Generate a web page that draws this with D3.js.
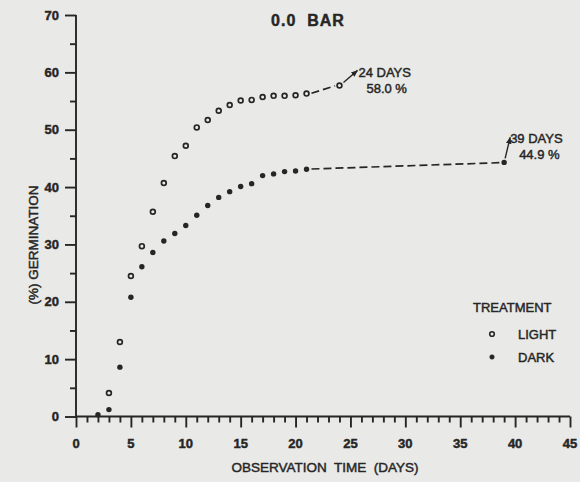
<!DOCTYPE html>
<html>
<head>
<meta charset="utf-8">
<script src="https://cdn.jsdelivr.net/npm/d3@7"></script>
<style>
  body { margin: 0; background: #e9e9e7; }
  svg { display: block; font-family: "Liberation Sans", Arial, sans-serif; }
  .ink { fill: #262626; stroke: #262626; stroke-width: 0.45px; }
</style>
</head>
<body>
<svg></svg>
<script>
// day numbers and % germination
const lightDays = [3, 4, 5, 6, 7, 8, 9, 10, 11, 12, 13, 14, 15, 16, 17, 18, 19, 20, 21, 24];
const lightValues = [4.1, 13.0, 24.5, 29.7, 35.7, 40.7, 45.4, 47.2, 50.4, 51.7, 53.3, 54.3, 55.1, 55.2, 55.7, 55.9, 55.9, 56.0, 56.3, 57.7];
const darkDays = [2, 3, 4, 5, 6, 7, 8, 9, 10, 11, 12, 13, 14, 15, 16, 17, 18, 19, 20, 21, 39];
const darkValues = [0.3, 1.2, 8.6, 20.8, 26.1, 28.6, 30.6, 31.9, 33.3, 35.1, 36.8, 38.2, 39.2, 40.1, 40.6, 42.0, 42.3, 42.7, 42.8, 43.1, 44.3];

const xTicks = [0, 5, 10, 15, 20, 25, 30, 35, 40, 45];
const yTicks = [0, 10, 20, 30, 40, 50, 60, 70];
const series = ['LIGHT', 'DARK'];
const notes = [
  { day: '24 DAYS', pct: '58.0 %' },
  { day: '39 DAYS', pct: '44.9 %' }
];

const ink = '#262626';
const svgWidth = 580;
const svgHeight = 482;

const svg = d3.select('svg')
    .attr('width', svgWidth)
    .attr('height', svgHeight);

svg.append('rect')
    .attr('width', svgWidth)
    .attr('height', svgHeight)
    .attr('fill', '#e9e9e7');

const x = d3.scaleLinear().domain([0, 45]).range([76, 570]);
const y = d3.scaleLinear().domain([0, 70]).range([416.5, 15]);

const light = lightDays.map((d, i) => [d, lightValues[i]]);
const dark = darkDays.map((d, i) => [d, darkValues[i]]);

// x axis: minor ticks every day, major every 5
const xAxis = svg.append('g')
    .attr('transform', `translate(0, ${y(0)})`)
    .call(d3.axisBottom(x).tickValues(d3.range(0, 46)).tickSize(6).tickFormat(''));
xAxis.selectAll('.tick line').filter(d => d % 5 === 0).attr('y2', 11);
xAxis.select('.domain').attr('d', `M${x(0)},0H${x(45)}`);
xAxis.selectAll('line, path').attr('stroke', ink).attr('stroke-width', 1.9);

svg.append('g')
    .attr('transform', `translate(0, ${y(0) + 31})`)
    .selectAll('text')
    .data(xTicks)
    .enter()
    .append('text')
    .attr('class', 'ink')
    .attr('x', d => x(d))
    .attr('text-anchor', 'middle')
    .attr('font-size', 13)
    .attr('font-weight', 'bold')
    .text(d => d);

// y axis: minor every 5, major every 10
const yAxis = svg.append('g')
    .attr('transform', `translate(${x(0)}, 0)`)
    .call(d3.axisLeft(y).tickValues(d3.range(0, 71, 5)).tickSize(6).tickFormat(''));
yAxis.selectAll('.tick line').filter(d => d % 10 === 0).attr('x2', -11);
yAxis.select('.domain').attr('d', `M0,${y(70)}V${y(0)}`);
yAxis.selectAll('line, path').attr('stroke', ink).attr('stroke-width', 1.9);

svg.append('g')
    .selectAll('text')
    .data(yTicks)
    .enter()
    .append('text')
    .attr('class', 'ink')
    .attr('x', x(0) - 17)
    .attr('y', d => y(d) + 4.5)
    .attr('text-anchor', 'end')
    .attr('font-size', 13)
    .attr('font-weight', 'bold')
    .text(d => d);

// titles
svg.append('text')
    .attr('class', 'ink')
    .attr('x', 308)
    .attr('y', 26)
    .attr('text-anchor', 'middle')
    .attr('font-size', 16)
    .attr('font-weight', 'bold')
    .attr('letter-spacing', 1)
    .attr('xml:space', 'preserve')
    .text('0.0  BAR');

svg.append('text')
    .attr('class', 'ink')
    .attr('x', 325)
    .attr('y', 472)
    .attr('text-anchor', 'middle')
    .attr('font-size', 13.5)
    .attr('xml:space', 'preserve')
    .text('OBSERVATION  TIME  (DAYS)');

svg.append('text')
    .attr('class', 'ink')
    .attr('transform', 'translate(38, 245) rotate(-90)')
    .attr('text-anchor', 'middle')
    .attr('font-size', 13.5)
    .text('(%) GERMINATION');

// dashed extensions to the last observation
const line = d3.line().x(d => x(d[0])).y(d => y(d[1]));
const lastLight = light.slice(-2);
const lastDark = dark.slice(-2);
[lastLight, lastDark].forEach(seg => {
  svg.append('path')
      .attr('d', line([[seg[0][0] + 0.45, seg[0][1] + 0.05], [seg[1][0] - 0.4, seg[1][1] - 0.05]]))
      .attr('fill', 'none')
      .attr('stroke', ink)
      .attr('stroke-width', 1.7)
      .attr('stroke-dasharray', '8,4');
});

// markers
svg.append('g')
    .selectAll('circle')
    .data(light)
    .enter()
    .append('circle')
    .attr('cx', d => x(d[0]))
    .attr('cy', d => y(d[1]))
    .attr('r', 2.4)
    .attr('fill', 'none')
    .attr('stroke', ink)
    .attr('stroke-width', 1.7);

svg.append('g')
    .selectAll('circle')
    .data(dark)
    .enter()
    .append('circle')
    .attr('cx', d => x(d[0]))
    .attr('cy', d => y(d[1]))
    .attr('r', 2.7)
    .attr('fill', ink);

// annotations with leader arrows
svg.append('defs').append('marker')
    .attr('id', 'head')
    .attr('viewBox', '0 0 10 10')
    .attr('refX', 9)
    .attr('refY', 5)
    .attr('markerWidth', 5)
    .attr('markerHeight', 5)
    .attr('orient', 'auto')
    .append('path')
    .attr('d', 'M0,1L10,5L0,9Z')
    .attr('fill', ink);

const endLight = light[light.length - 1];
const endDark = dark[dark.length - 1];
const pLight = [x(endLight[0]), y(endLight[1])];
const pDark = [x(endDark[0]), y(endDark[1])];

svg.append('line')
    .attr('x1', pLight[0] + 4).attr('y1', pLight[1] - 3)
    .attr('x2', pLight[0] + 18).attr('y2', pLight[1] - 15)
    .attr('stroke', ink).attr('stroke-width', 1.4)
    .attr('marker-end', 'url(#head)');

svg.append('line')
    .attr('x1', pDark[0] + 1).attr('y1', pDark[1] - 4)
    .attr('x2', pDark[0] + 6).attr('y2', pDark[1] - 25)
    .attr('stroke', ink).attr('stroke-width', 1.4)
    .attr('marker-end', 'url(#head)');

const noteAt = [
  [pLight[0] + 19, pLight[1] - 9, pLight[0] + 27, pLight[1] + 7],
  [pDark[0] + 6, pDark[1] - 19, pDark[0] + 15, pDark[1] - 3]
];
notes.forEach((n, i) => {
  const p = noteAt[i];
  svg.append('text').attr('class', 'ink')
      .attr('x', p[0]).attr('y', p[1])
      .attr('font-size', 13)
      .text(n.day);
  svg.append('text').attr('class', 'ink')
      .attr('x', p[2]).attr('y', p[3])
      .attr('font-size', 13)
      .text(n.pct);
});

// legend
const legend = svg.append('g').attr('transform', 'translate(473, 312)');
legend.append('text').attr('class', 'ink')
    .attr('font-size', 13)
    .text('TREATMENT');
const rows = legend.selectAll('.row')
    .data(series)
    .enter()
    .append('g')
    .attr('transform', (d, i) => `translate(0, ${22 + i * 23})`);
rows.append('circle')
    .attr('cx', 19)
    .attr('cy', 0)
    .attr('r', 2.3)
    .attr('fill', (d, i) => i === 0 ? 'none' : ink)
    .attr('stroke', ink)
    .attr('stroke-width', (d, i) => i === 0 ? 1.6 : 0.5);
rows.append('text').attr('class', 'ink')
    .attr('x', 45)
    .attr('y', 4.5)
    .attr('font-size', 13)
    .text(d => d);
</script>
</body>
</html>
